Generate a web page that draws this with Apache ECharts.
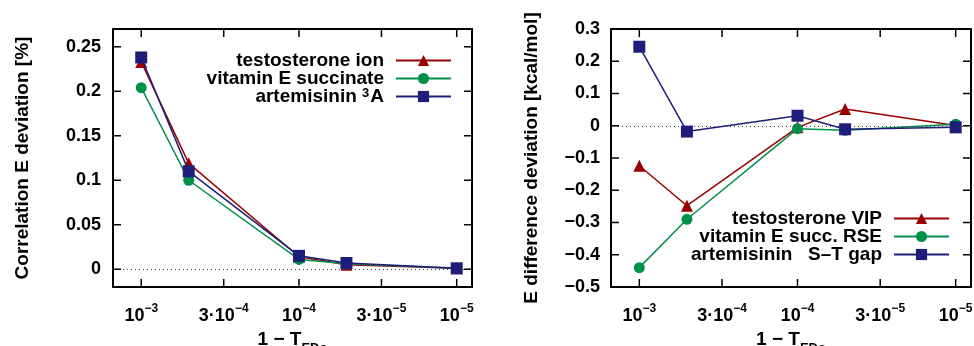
<!DOCTYPE html>
<html>
<head>
<meta charset="utf-8">
<script src="https://cdn.jsdelivr.net/npm/echarts@6/dist/echarts.min.js"></script>
<style>
  html, body { margin: 0; padding: 0; background: #fff; }
  #main { width: 974px; height: 346px; }
</style>
</head>
<body>
<div id="main"></div>
<script>
// 1 - T_EDo thresholds
const thresholds = [1e-3, 5e-4, 1e-4, 5e-5, 1e-5]
const xTicks = [1e-3, 3e-4, 1e-4, 3e-5, 1e-5]

// left: correlation energy deviation [%]
const leftNames = ['testosterone ion', 'vitamin E succinate', 'artemisinin ³A']
const leftTesto = [0.233, 0.119, 0.014, 0.005, 0.001]
const leftVitE = [0.204, 0.100, 0.011, 0.006, 0.001]
const leftArte = [0.238, 0.110, 0.015, 0.007, 0.001]
const leftYTicks = [0, 0.05, 0.1, 0.15, 0.2, 0.25]

// right: energy difference deviation [kcal/mol]
const rightNames = ['testosterone VIP', 'vitamin E succ. RSE', 'artemisinin   S–T gap']
const rightTesto = [-0.124, -0.248, -0.005, 0.052, 0.001]
const rightVitE = [-0.440, -0.290, -0.009, -0.014, 0.005]
const rightArte = [0.245, -0.018, 0.031, -0.011, -0.005]
const rightYTicks = [-0.5, -0.4, -0.3, -0.2, -0.1, 0, 0.1, 0.2, 0.3]

const colors = ['#9a0000', '#00904a', '#1e1e7a']
const symbols = ['triangle', 'circle', 'rect']
const symSizes = [12, 11, 12]
const FONT = 'Liberation Sans'
const TICK = 8
const grids = [
  { left: 113, top: 29, width: 359, height: 258 },
  { left: 611, top: 29, width: 360, height: 258 }
]

const chart = echarts.init(document.getElementById('main'))

function pair(vals) {
  return thresholds.map((t, i) => [t, vals[i]])
}

function xLabel(v) {
  const e = Math.ceil(-Math.log10(v) - 1e-6)
  const m = Math.round(v * Math.pow(10, e))
  const sup = '{sup|−' + e + '}'
  return m === 1 ? '{b|10}' + sup : '{b|' + m + '·10}' + sup
}

const supRich = {
  b: { fontFamily: FONT, fontWeight: 'bold', fontSize: 18, lineHeight: 22, verticalAlign: 'bottom', color: '#000' },
  sup: { fontFamily: FONT, fontWeight: 'bold', fontSize: 12, lineHeight: 12, verticalAlign: 'top', color: '#000' }
}
const subRich = {
  b: { fontFamily: FONT, fontWeight: 'bold', fontSize: 19, lineHeight: 19, verticalAlign: 'top', color: '#000' },
  sub: { fontFamily: FONT, fontWeight: 'bold', fontSize: 13, lineHeight: 13, verticalAlign: 'top', padding: [12, 0, 0, 0], color: '#000' }
}

const lineStyle = { color: '#000', width: 2 }
const axisFont = { fontFamily: FONT, fontWeight: 'bold', fontSize: 18, color: '#000' }
const nameFont = { fontFamily: FONT, fontWeight: 'bold', fontSize: 19, color: '#000' }

function xAxes(gi) {
  return [{
    type: 'log', gridIndex: gi, inverse: true, min: 8.0e-6, max: 1.51e-3,
    name: '{b|1 − T}{sub|EDo}', nameLocation: 'middle', nameGap: 42,
    nameTextStyle: { rich: subRich },
    axisLine: { show: true, onZero: false, lineStyle: lineStyle },
    axisTick: { show: false },
    axisLabel: { customValues: xTicks, margin: 16, formatter: xLabel, rich: supRich },
    splitLine: { show: false }, minorTick: { show: false }
  }, {
    type: 'log', gridIndex: gi, position: 'top', inverse: true, min: 8.0e-6, max: 1.51e-3,
    axisLine: { show: true, onZero: false, lineStyle: lineStyle },
    axisTick: { show: false }, axisLabel: { show: false }, splitLine: { show: false }
  }]
}

function fmtY(v) {
  const s = String(Math.round(v * 100) / 100)
  return v < 0 ? '−' + s.slice(1) : s
}

function yAxes(gi, range, ticks, title, gap, margin) {
  const common = { type: 'value', gridIndex: gi, min: range[0], max: range[1], splitLine: { show: false }, axisTick: { show: false } }
  return [
    Object.assign({
      name: title, nameLocation: 'middle', nameGap: gap, nameTextStyle: nameFont,
      axisLine: { show: true, onZero: false, lineStyle: lineStyle },
      axisLabel: Object.assign({ customValues: ticks, margin: margin, formatter: fmtY }, axisFont)
    }, common),
    Object.assign({
      position: 'right',
      axisLine: { show: true, onZero: false, lineStyle: lineStyle },
      axisLabel: { show: false }
    }, common)
  ]
}

function makeSeries(names, datas, xi, yi) {
  return names.map((n, i) => {
    const s = {
      name: n, type: 'line', xAxisIndex: xi, yAxisIndex: yi,
      data: pair(datas[i]),
      symbol: symbols[i], symbolSize: symSizes[i],
      itemStyle: { color: colors[i] },
      lineStyle: { color: colors[i], width: 1.5 },
      z: 3 + i
    }
    if (i === 0) {
      s.markLine = {
        silent: true, symbol: 'none', label: { show: false },
        lineStyle: { color: '#444', type: [1, 3], width: 1 },
        data: [{ yAxis: 0 }]
      }
    }
    return s
  })
}

const legendBase = {
  orient: 'vertical', align: 'right', itemWidth: 55, itemHeight: 14, itemGap: -1, padding: 0,
  formatter: name => name.replace('³', '{sup|3}'),
  textStyle: {
    fontFamily: FONT, fontWeight: 'bold', fontSize: 19, lineHeight: 19, color: '#000', padding: [0, 7, 0, 0],
    rich: {
      sup: { fontFamily: FONT, fontWeight: 'bold', fontSize: 13, lineHeight: 13, verticalAlign: 'top', padding: [0, 1, 0, 0], color: '#000' }
    }
  },
  inactiveColor: '#000'
}

chart.setOption({
  animation: false,
  backgroundColor: '#fff',
  grid: grids.map(g => Object.assign({ outerBoundsMode: 'none', containLabel: false }, g)),
  legend: [
    Object.assign({ data: leftNames, right: 522, top: 51 }, legendBase),
    Object.assign({ data: rightNames, right: 24, top: 209 }, legendBase)
  ],
  xAxis: xAxes(0).concat(xAxes(1)),
  yAxis: yAxes(0, [-0.02, 0.27], leftYTicks, 'Correlation E deviation [%]', 81, 12)
    .concat(yAxes(1, [-0.5, 0.3], rightYTicks, 'E difference deviation [kcal/mol]', 70, 11)),
  series: makeSeries(leftNames, [leftTesto, leftVitE, leftArte], 0, 0)
    .concat(makeSeries(rightNames, [rightTesto, rightVitE, rightArte], 2, 2))
})

// gnuplot style mirrored inward ticks, positioned through the axes' own scales
function tickLines(gi, xi, yi, yTicks) {
  const g = grids[gi]
  const bottom = g.top + g.height
  const right = g.left + g.width
  const segs = []
  xTicks.forEach(t => {
    const px = chart.convertToPixel({ xAxisIndex: xi }, t)
    segs.push([px, bottom, px, bottom - TICK])
    segs.push([px, g.top, px, g.top + TICK])
  })
  yTicks.forEach(v => {
    const py = chart.convertToPixel({ yAxisIndex: yi }, v)
    segs.push([g.left, py, g.left + TICK, py])
    segs.push([right, py, right - TICK, py])
  })
  return segs.map(s => ({
    type: 'line', silent: true, z: 100,
    shape: { x1: s[0], y1: s[1], x2: s[2], y2: s[3] },
    style: { stroke: '#000', lineWidth: 1.5 }
  }))
}

try {
  chart.setOption({
    graphic: {
      elements: tickLines(0, 0, 0, leftYTicks).concat(tickLines(1, 2, 2, rightYTicks))
    }
  })
} catch (e) {
  console.log(e)
}
</script>
</body>
</html>
